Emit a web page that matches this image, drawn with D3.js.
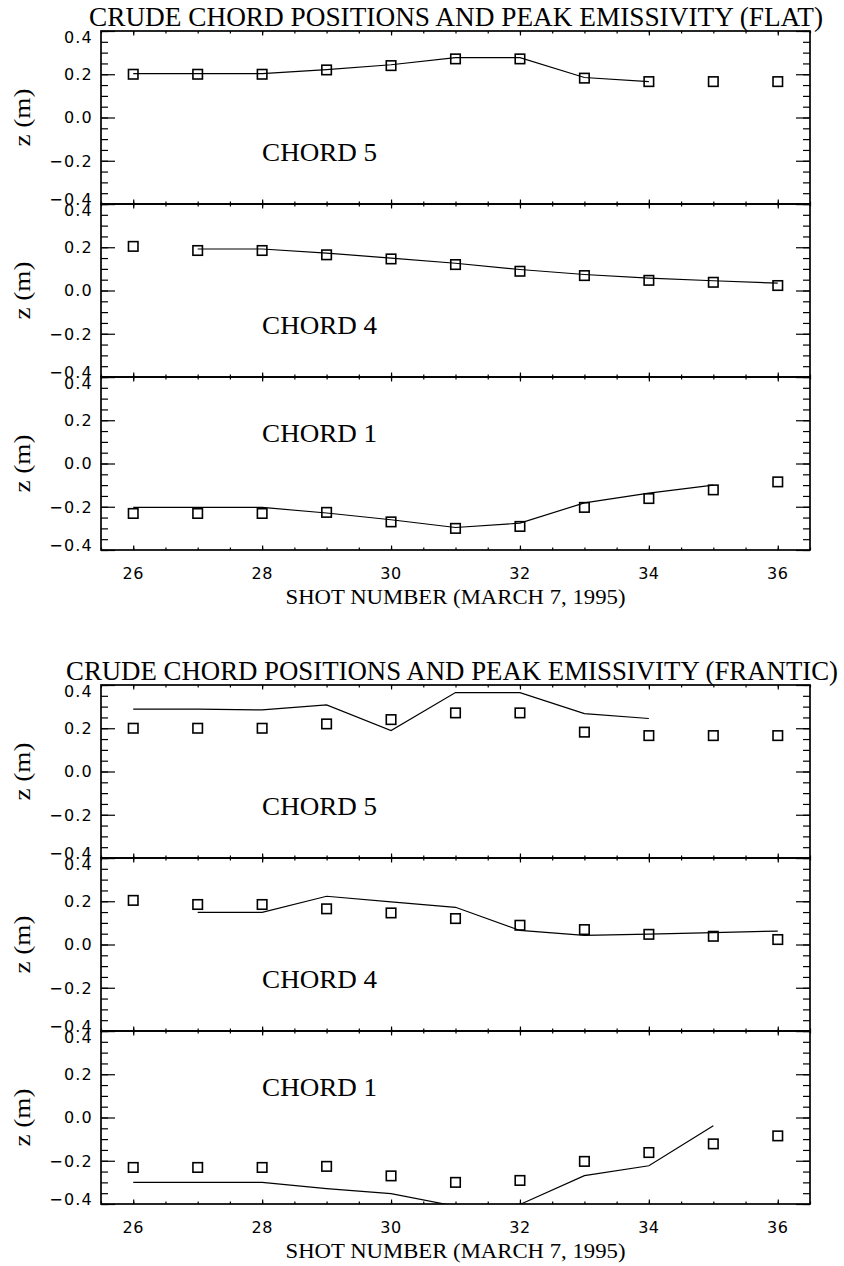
<!DOCTYPE html>
<html>
<head>
<meta charset="utf-8">
<script src="https://cdn.jsdelivr.net/npm/d3@7"></script>
<style>
  html, body { margin: 0; padding: 0; background: #fff; }
  svg { display: block; }
</style>
</head>
<body>
<script>
// Shot numbers along the x axis (March 7, 1995)
const shots = [26, 27, 28, 29, 30, 31, 32, 33, 34, 35, 36];

// Crude chord positions z (m) for each shot — drawn as open squares
const chord5Z = [0.200, 0.200, 0.200, 0.220, 0.240, 0.271, 0.271, 0.182, 0.166, 0.166, 0.166];
const chord4Z = [0.204, 0.185, 0.185, 0.165, 0.146, 0.120, 0.089, 0.069, 0.047, 0.038, 0.023];
const chord1Z = [-0.231, -0.231, -0.231, -0.226, -0.270, -0.300, -0.291, -0.203, -0.162, -0.122, -0.085];

// Peak emissivity positions from the FLAT profile (null = no value)
const flatChord5 = [0.203, 0.203, 0.203, 0.221, 0.244, 0.277, 0.277, 0.185, 0.166, null, null];
const flatChord4 = [null, 0.192, 0.192, 0.173, 0.150, 0.126, 0.097, 0.074, 0.057, 0.045, 0.034];
const flatChord1 = [-0.203, -0.203, -0.203, -0.229, -0.260, -0.296, -0.276, -0.182, -0.137, -0.100, null];

// Peak emissivity positions from the FRANTIC profile (null = no value)
const franticChord5 = [0.288, 0.288, 0.285, 0.308, 0.189, 0.365, 0.365, 0.268, 0.245, null, null];
const franticChord4 = [null, 0.149, 0.149, 0.223, 0.197, 0.172, 0.065, 0.042, 0.048, 0.055, 0.062];
const franticChord1 = [-0.300, -0.300, -0.300, -0.329, -0.352, -0.410, -0.402, -0.269, -0.223, -0.038, null];

// Axis ticks
const xTickLabels = [26, 28, 30, 32, 34, 36];
const yTickLabels = [-0.4, -0.2, 0.0, 0.2, 0.4];

const titles = [
  "CRUDE CHORD POSITIONS AND PEAK EMISSIVITY (FLAT)",
  "CRUDE CHORD POSITIONS AND PEAK EMISSIVITY (FRANTIC)"
];
const chordNames = ["CHORD 5", "CHORD 4", "CHORD 1"];
const xTitle = "SHOT NUMBER (MARCH 7, 1995)";
const yTitle = "z (m)";

// ---- layout ----
const W = 844, H = 1266;
const X0 = 101, X1 = 810;
const PANEL_H = 173;
const SERIF = "'Liberation Serif', 'DejaVu Serif', 'Times New Roman', serif";
const SANS = "'DejaVu Sans', 'Liberation Sans', sans-serif";

const groups = [
  { title: titles[0], top: 31, titleX: 456, titleLen: 734, fits: [flatChord5, flatChord4, flatChord1] },
  { title: titles[1], top: 685, titleX: 452, titleLen: 772, fits: [franticChord5, franticChord4, franticChord1] }
];
const panelDefs = [
  { name: chordNames[0], z: chord5Z, labelX: 28, labelY: -0.2 },
  { name: chordNames[1], z: chord4Z, labelX: 28, labelY: -0.2 },
  { name: chordNames[2], z: chord1Z, labelX: 28, labelY: 0.1 }
];

const svg = d3.select("body").append("svg")
  .attr("width", W).attr("height", H)
  .attr("viewBox", `0 0 ${W} ${H}`);
svg.append("rect").attr("width", W).attr("height", H).attr("fill", "#fff");

const x = d3.scaleLinear().domain([25.5, 36.5]).range([X0, X1]);
const xMinor = d3.range(51, 74).map(k => k / 2);            // every 0.5
const xMajor = d3.range(26, 37, 2);
const yMinor = d3.range(-8, 9).map(k => k * 0.05);          // every 0.05
const fmt = d3.format(".1f");
const defs = svg.append("defs");

function tickAxis(sel, axis) {
  sel.call(axis);
  sel.select(".domain").remove();
  sel.selectAll(".tick line").attr("stroke", "#000").attr("stroke-width", 1.2);
  sel.selectAll(".tick text").remove();
}

groups.forEach((g, gi) => {
  // group title
  svg.append("text")
    .attr("x", g.titleX).attr("y", g.top - 5)
    .attr("text-anchor", "middle")
    .attr("font-family", SERIF).attr("font-size", 27)
    .attr("textLength", g.titleLen).attr("lengthAdjust", "spacingAndGlyphs")
    .attr("fill", "#000")
    .text(g.title);

  panelDefs.forEach((p, pi) => {
    const top = g.top + pi * PANEL_H;
    const bottom = top + PANEL_H;
    const y = d3.scaleLinear().domain([-0.4, 0.4]).range([bottom, top]);
    const panel = svg.append("g");

    // clip region for the fit line
    const clipId = `clip-${gi}-${pi}`;
    defs.append("clipPath").attr("id", clipId)
      .append("rect").attr("x", X0).attr("y", top)
      .attr("width", X1 - X0).attr("height", PANEL_H);

    // inward ticks on all four sides
    tickAxis(panel.append("g").attr("transform", `translate(${X0},0)`),
      d3.axisRight(y).tickValues(yMinor).tickSize(7).tickSizeOuter(0));
    tickAxis(panel.append("g").attr("transform", `translate(${X0},0)`),
      d3.axisRight(y).tickValues(yTickLabels).tickSize(14).tickSizeOuter(0));
    tickAxis(panel.append("g").attr("transform", `translate(${X1},0)`),
      d3.axisLeft(y).tickValues(yMinor).tickSize(7).tickSizeOuter(0));
    tickAxis(panel.append("g").attr("transform", `translate(${X1},0)`),
      d3.axisLeft(y).tickValues(yTickLabels).tickSize(14).tickSizeOuter(0));
    tickAxis(panel.append("g").attr("transform", `translate(0,${bottom})`),
      d3.axisTop(x).tickValues(xMinor).tickSize(2.5).tickSizeOuter(0));
    tickAxis(panel.append("g").attr("transform", `translate(0,${bottom})`),
      d3.axisTop(x).tickValues(xMajor).tickSize(4.5).tickSizeOuter(0));
    tickAxis(panel.append("g").attr("transform", `translate(0,${top})`),
      d3.axisBottom(x).tickValues(xMinor).tickSize(2.5).tickSizeOuter(0));
    tickAxis(panel.append("g").attr("transform", `translate(0,${top})`),
      d3.axisBottom(x).tickValues(xMajor).tickSize(4.5).tickSizeOuter(0));

    // frame
    panel.append("rect")
      .attr("x", X0).attr("y", top)
      .attr("width", X1 - X0).attr("height", PANEL_H)
      .attr("fill", "none").attr("stroke", "#000").attr("stroke-width", 1.7);

    // y tick labels
    panel.selectAll("text.ylab").data(yTickLabels).join("text")
      .attr("class", "ylab")
      .attr("x", 93)
      .attr("y", v => y(v) + 5.8 + (v === 0.4 ? 6 : v === -0.4 ? -5 : 0))
      .attr("text-anchor", "end")
      .attr("font-family", SANS).attr("font-size", 16)
      .attr("letter-spacing", 1.2)
      .attr("fill", "#000")
      .text(v => fmt(v));

    // y title
    panel.append("text")
      .attr("transform", `translate(30,${(top + bottom) / 2}) rotate(-90)`)
      .attr("text-anchor", "middle")
      .attr("font-family", SERIF).attr("font-size", 24)
      .attr("textLength", 58).attr("lengthAdjust", "spacingAndGlyphs")
      .attr("fill", "#000")
      .text(yTitle);

    // fit line
    const rows = shots.map((s, i) => ({ s, z: g.fits[pi][i] }));
    panel.append("path")
      .datum(rows)
      .attr("clip-path", `url(#${clipId})`)
      .attr("fill", "none").attr("stroke", "#000").attr("stroke-width", 1.2)
      .attr("d", d3.line().defined(d => d.z != null).x(d => x(d.s)).y(d => y(d.z)));

    // chord position squares
    const SQ = 9.5;
    panel.selectAll("rect.pt").data(shots.map((s, i) => ({ s, z: p.z[i] }))).join("rect")
      .attr("class", "pt")
      .attr("x", d => x(d.s) - SQ / 2).attr("y", d => y(d.z) - SQ / 2)
      .attr("width", SQ).attr("height", SQ)
      .attr("fill", "none").attr("stroke", "#000").attr("stroke-width", 1.6);

    // chord label
    panel.append("text")
      .attr("x", x(p.labelX)).attr("y", y(p.labelY))
      .attr("font-family", SERIF).attr("font-size", 25)
      .attr("textLength", 115).attr("lengthAdjust", "spacingAndGlyphs")
      .attr("fill", "#000")
      .text(p.name);

    // x tick labels and title under the bottom panel of each group
    if (pi === panelDefs.length - 1) {
      panel.selectAll("text.xlab").data(xTickLabels).join("text")
        .attr("class", "xlab")
        .attr("x", v => x(v)).attr("y", bottom + 29)
        .attr("text-anchor", "middle")
        .attr("font-family", SANS).attr("font-size", 16)
        .attr("letter-spacing", 0.5)
        .attr("fill", "#000")
        .text(v => v);

      panel.append("text")
        .attr("x", (X0 + X1) / 2).attr("y", bottom + 54)
        .attr("text-anchor", "middle")
        .attr("font-family", SERIF).attr("font-size", 22)
        .attr("textLength", 340).attr("lengthAdjust", "spacingAndGlyphs")
        .attr("fill", "#000")
        .text(xTitle);
    }
  });
});
</script>
</body>
</html>
